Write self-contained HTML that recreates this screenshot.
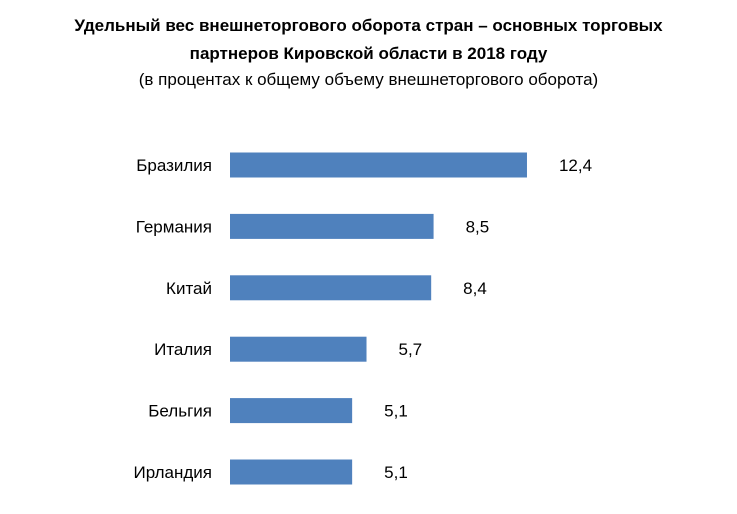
<!DOCTYPE html>
<html><head><meta charset="utf-8"><style>
body{margin:0;width:737px;height:514px;background:#fff;overflow:hidden;font-family:"Liberation Sans","DejaVu Sans",sans-serif;}
.t{position:absolute;left:0;width:737px;text-align:center;color:#000;font-size:17px;}
</style></head><body>
<div class="t" style="top:12px;font-weight:bold;line-height:28px">Удельный вес внешнеторгового оборота стран – основных торговых<br>партнеров Кировской области в 2018 году</div>
<div class="t" style="top:68px;line-height:24px">(в процентах к общему объему внешнеторгового оборота)</div>
<svg id="c" width="737" height="514" style="position:absolute;left:0;top:0"></svg>
<script>
const categories=["Бразилия","Германия","Китай","Италия","Бельгия","Ирландия"];
const values=[12.4,8.5,8.4,5.7,5.1,5.1];
const valueLabels=["12,4","8,5","8,4","5,7","5,1","5,1"];
const svg=document.getElementById('c');const NS='http://www.w3.org/2000/svg';
const x0=230,k=23.95,y0=165,step=61.4,bh=25;
const xs=v=>x0+v*k, ys=i=>y0+i*step;
categories.forEach((c,i)=>{
 const r=document.createElementNS(NS,'rect');
 r.setAttribute('x',x0);r.setAttribute('y',ys(i)-bh/2);r.setAttribute('width',xs(values[i])-x0);r.setAttribute('height',bh);r.setAttribute('fill','#4f81bd');
 
 
 svg.appendChild(r);
 const l=document.createElementNS(NS,'text');
 l.setAttribute('x',212);l.setAttribute('y',ys(i)+6);l.setAttribute('text-anchor','end');l.setAttribute('font-size','17');l.textContent=c;
 
 
 svg.appendChild(l);
 const v=document.createElementNS(NS,'text');
 v.setAttribute('x',xs(values[i])+32);v.setAttribute('y',ys(i)+6);v.setAttribute('font-size','17');v.textContent=valueLabels[i];
 
 
 svg.appendChild(v);
});
</script>
</body></html>
